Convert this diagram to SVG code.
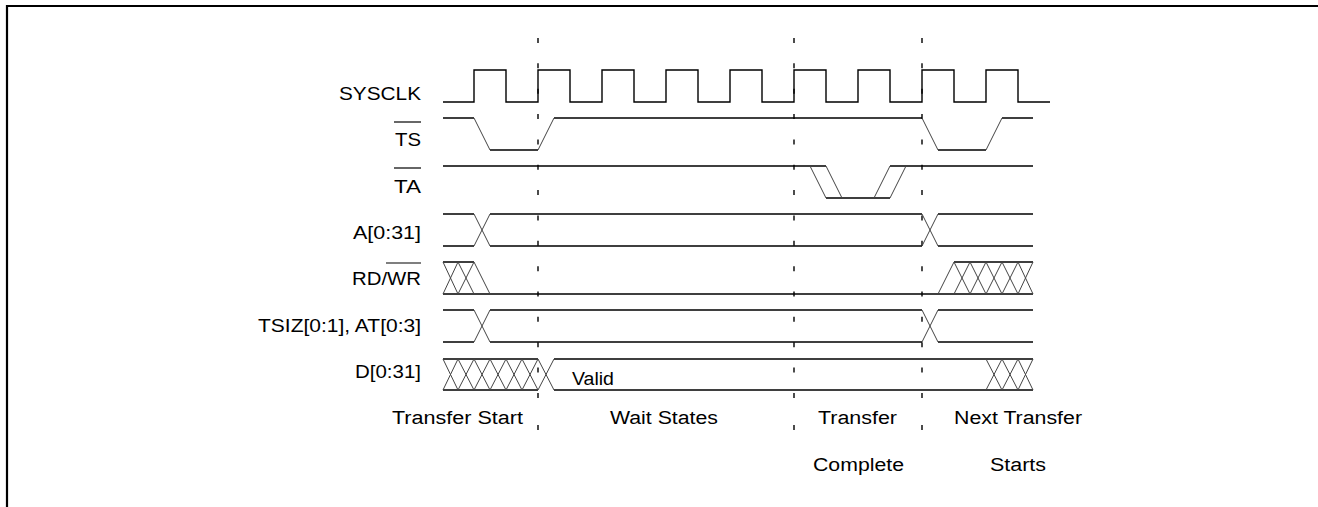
<svg xmlns="http://www.w3.org/2000/svg" width="1318" height="507" viewBox="0 0 1318 507">
<style>
text{font-family:"Liberation Sans",Arial,Helvetica,sans-serif;font-size:18px;fill:#000}
.lbl{text-anchor:end}
.sig{fill:none;stroke:#000;stroke-width:1.4}
.tr{fill:none;stroke:#444;stroke-width:1}
.ov{stroke:#000;stroke-width:1.2}
.dash{stroke:#000;stroke-width:1.4;stroke-dasharray:5 20.35}
.frame{stroke:#000;stroke-width:2.2;fill:none}
</style>
<rect width="1318" height="507" fill="#fff"/>
<path class="frame" d="M7,507 V6 H1318"/>

<g id="markers">
<line class="dash" x1="538" y1="38" x2="538" y2="400"/>
<line class="dash" x1="794" y1="38" x2="794" y2="400"/>
<line class="dash" x1="922" y1="38" x2="922" y2="400"/>
<path class="sig" d="M538,425 v5 M794,425 v5 M922,425 v5"/>
</g>

<g id="sysclk">
<text class="lbl" x="421" y="99.5" textLength="82" lengthAdjust="spacingAndGlyphs">SYSCLK</text>
<path class="sig" d="M443,102 H474 V70 H506 V102 H538 V70 H570 V102 H602 V70 H634 V102 H666 V70 H698 V102 H730 V70 H762 V102 H794 V70 H826 V102 H858 V70 H890 V102 H922 V70 H954 V102 H986 V70 H1018 V102 H1050"/>
</g>

<g id="ts">
<text class="lbl" x="421" y="146" textLength="26" lengthAdjust="spacingAndGlyphs">TS</text>
<line class="ov" x1="394" y1="122" x2="421" y2="122"/>
<path class="sig" d="M443,118 H474 M490,150 H538 M554,118 H922 M938,150 H986 M1002,118 H1033"/>
<path class="tr" d="M474,118 L490,150 M538,150 L554,118 M922,118 L938,150 M986,150 L1002,118"/>
</g>

<g id="ta">
<text class="lbl" x="421" y="192.5" textLength="27" lengthAdjust="spacingAndGlyphs">TA</text>
<line class="ov" x1="394" y1="168" x2="421" y2="168"/>
<path class="sig" d="M443,166 H826 M826,198 H890 M890,166 H1033"/>
<path class="tr" d="M810,166 L826,198 M826,166 L842,198 M874,198 L890,166 M890,198 L906,166"/>
</g>

<g id="addr">
<text class="lbl" x="421" y="239" textLength="68" lengthAdjust="spacingAndGlyphs">A[0:31]</text>
<path class="sig" d="M443,214 H474 M443,246 H474 M490,214 H922 M490,246 H922 M938,214 H1033 M938,246 H1033"/>
<path class="tr" d="M474,214 L490,246 M474,246 L490,214 M922,214 L938,246 M922,246 L938,214"/>
</g>

<g id="rdwr">
<text class="lbl" x="421" y="285.3" textLength="69" lengthAdjust="spacingAndGlyphs">RD/WR</text>
<line class="ov" x1="386" y1="263" x2="421" y2="263"/>
<path class="sig" d="M443,262 H474 M443,294 H1033 M954,262 H1033"/>
<path class="tr" d="M443,262 L458,294 M443,294 L458,262 M458,262 L474,294 M458,294 L474,262 M474,262 L490,294 M938,294 L954,262 M954,262 L970,294 M954,294 L970,262 M970,262 L986,294 M970,294 L986,262 M986,262 L1002,294 M986,294 L1002,262 M1002,262 L1018,294 M1002,294 L1018,262 M1018,262 L1033,294 M1018,294 L1033,262"/>
</g>

<g id="tsiz">
<text class="lbl" x="421" y="331.7" textLength="163" lengthAdjust="spacingAndGlyphs">TSIZ[0:1], AT[0:3]</text>
<path class="sig" d="M443,310 H474 M443,342 H474 M490,310 H922 M490,342 H922 M938,310 H1033 M938,342 H1033"/>
<path class="tr" d="M474,310 L490,342 M474,342 L490,310 M922,310 L938,342 M922,342 L938,310"/>
</g>

<g id="data">
<text class="lbl" x="421" y="378" textLength="66" lengthAdjust="spacingAndGlyphs">D[0:31]</text>
<path class="sig" d="M443,359 H538 M443,390 H538 M554,359 H1033 M554,390 H1033"/>
<path class="tr" d="M443,359 L458,390 M443,390 L458,359 M458,359 L474,390 M458,390 L474,359 M474,359 L490,390 M474,390 L490,359 M490,359 L506,390 M490,390 L506,359 M506,359 L522,390 M506,390 L522,359 M522,359 L538,390 M522,390 L538,359 M538,359 L554,390 M538,390 L554,359 M986,359 L1002,390 M986,390 L1002,359 M1002,359 L1018,390 M1002,390 L1018,359 M1018,359 L1033,390 M1018,390 L1033,359"/>
<text x="572" y="385" textLength="42" lengthAdjust="spacingAndGlyphs">Valid</text>
</g>

<g id="phases">
<text x="392" y="424" textLength="131" lengthAdjust="spacingAndGlyphs">Transfer Start</text>
<text x="610" y="424" textLength="108" lengthAdjust="spacingAndGlyphs">Wait States</text>
<text x="818" y="424" textLength="79" lengthAdjust="spacingAndGlyphs">Transfer</text>
<text x="813" y="471" textLength="91" lengthAdjust="spacingAndGlyphs">Complete</text>
<text x="954" y="424" textLength="128" lengthAdjust="spacingAndGlyphs">Next Transfer</text>
<text x="990" y="471" textLength="56" lengthAdjust="spacingAndGlyphs">Starts</text>
</g>
</svg>
